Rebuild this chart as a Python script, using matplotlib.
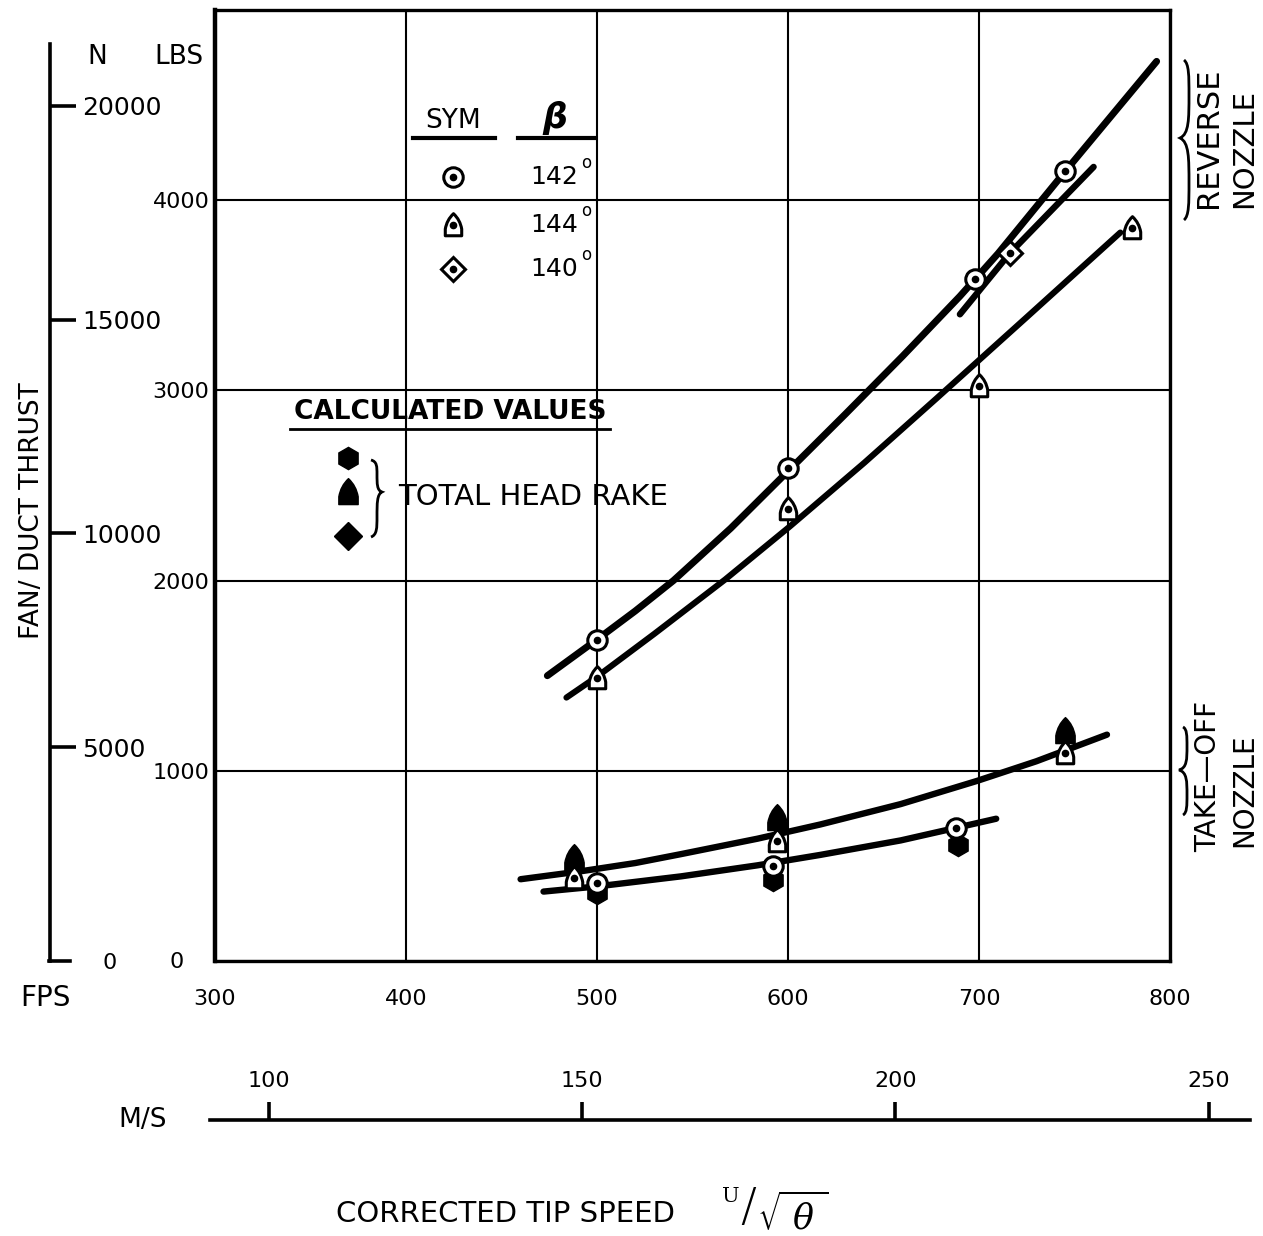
import numpy as np
import matplotlib
matplotlib.use("Agg")
import matplotlib.pyplot as plt
from matplotlib.path import Path
from matplotlib.patches import PathPatch
from matplotlib.lines import Line2D

plt.rcParams['font.family'] = ['DejaVu Sans']
plt.rcParams['mathtext.fontset'] = 'dejavuserif'

# ---------------- data (corrected tip speed in ft/s, thrust in lbs) ----------------
# reverse nozzle, measured
rev142_fps = [500, 600, 698, 745]
rev142_lbs = [1690, 2590, 3585, 4152]
rev144_fps = [500, 600, 700, 780]
rev144_lbs = [1490, 2375, 3022, 3856]
rev140_fps = [716]
rev140_lbs = [3720]

# reverse nozzle, faired curves
fair142_fps = [474, 500, 520, 540, 570, 600, 630, 660, 690, 710, 745, 793]
fair142_lbs = [1500, 1690, 1840, 2000, 2275, 2575, 2875, 3180, 3495, 3720, 4150, 4730]
fair140_fps = [690, 716, 760]
fair140_lbs = [3400, 3720, 4175]
fair144_fps = [484, 500, 530, 567, 601, 640, 678, 725, 774]
fair144_lbs = [1385, 1495, 1720, 2005, 2285, 2620, 2960, 3385, 3830]

# take-off nozzle, measured
to144_fps = [488, 594, 745]
to144_lbs = [435, 630, 1093]
to142_fps = [500, 592, 688]
to142_lbs = [409, 500, 698]

# take-off nozzle, calculated from total head rake
calc144_fps = [488, 594, 745]
calc144_lbs = [540, 751, 1207]
calc142_fps = [500, 592, 689]
calc142_lbs = [356, 426, 610]

# take-off nozzle, faired curves
fair_to_hi_fps = [460, 491, 520, 544, 584, 617, 659, 699, 730, 767]
fair_to_hi_lbs = [430, 471, 515, 562, 643, 718, 825, 947, 1050, 1190]
fair_to_lo_fps = [472, 500, 544, 584, 617, 659, 688, 709]
fair_to_lo_lbs = [365, 392, 445, 503, 558, 634, 700, 748]

# axis ticks
fps_ticks = [300, 400, 500, 600, 700, 800]
lbs_ticks = [0, 1000, 2000, 3000, 4000]
n_ticks = [5000, 10000, 15000, 20000]
ms_ticks = [100, 150, 200, 250]
beta_labels = ['142', '144', '140']

LBF_TO_N = 4.44822
FPS_TO_MS = 0.3048

# ---------------- figure ----------------
W, H = 1263, 1236
fig = plt.figure(figsize=(W / 100, H / 100), dpi=100)
fig.patch.set_facecolor('white')


def fx(px):
    return px / W


def fy(py):
    return 1 - py / H


# bullet-shaped "triangle" symbol
bullet = Path(
    [(-0.8, -1.0), (0.8, -1.0), (0.8, -0.35), (0.65, 0.55), (0.0, 1.15),
     (-0.65, 0.55), (-0.8, -0.35), (-0.8, -1.0)],
    [Path.MOVETO, Path.LINETO, Path.LINETO, Path.CURVE3, Path.CURVE3,
     Path.CURVE3, Path.CURVE3, Path.CLOSEPOLY])

# ---------------- main axes ----------------
ax = fig.add_axes([fx(215), fy(961), (1170 - 215) / W, (961 - 10) / H])
ax.set_xlim(300, 800)
ax.set_ylim(0, 5000)
ax.set_xticks(fps_ticks)
ax.set_xticklabels([str(v) for v in fps_ticks])
ax.set_yticks(lbs_ticks)
ax.set_yticklabels([''] + [str(v) for v in lbs_ticks[1:]])
ax.tick_params(axis='both', length=0, labelsize=16)
ax.tick_params(axis='x', pad=20)
ax.tick_params(axis='y', pad=4)
ax.grid(True, color='black', lw=1.5)
for side in ['top', 'right', 'bottom']:
    ax.spines[side].set_linewidth(2.4)
ax.spines['left'].set_linewidth(3.2)
ax.set_axisbelow(True)

curve_kw = dict(color='black', solid_capstyle='round',
                solid_joinstyle='round', zorder=3)
ax.plot(fair142_fps, fair142_lbs, lw=5.0, **curve_kw)
ax.plot(fair140_fps, fair140_lbs, lw=4.6, **curve_kw)
ax.plot(fair144_fps, fair144_lbs, lw=4.4, **curve_kw)
ax.plot(fair_to_hi_fps, fair_to_hi_lbs, lw=4.6, **curve_kw)
ax.plot(fair_to_lo_fps, fair_to_lo_lbs, lw=4.6, **curve_kw)

# calculated values (filled)
ax.plot(calc144_fps, calc144_lbs, ls='none', marker=bullet, ms=20,
        color='black', zorder=4)
ax.plot(calc142_fps, calc142_lbs, ls='none', marker='h', ms=16,
        color='black', zorder=4)

# measured values (open with centre dot)
open_kw = dict(ls='none', mfc='white', mec='black', mew=2.2, zorder=5)
dot_kw = dict(ls='none', marker='o', ms=4.5, color='black', zorder=6)
ax.plot(rev142_fps, rev142_lbs, marker='o', ms=14, **open_kw)
ax.plot(rev142_fps, rev142_lbs, **dot_kw)
ax.plot(rev144_fps, rev144_lbs, marker=bullet, ms=17, **open_kw)
ax.plot(rev144_fps, rev144_lbs, **dot_kw)
ax.plot(rev140_fps, rev140_lbs, marker='D', ms=12, **open_kw)
ax.plot(rev140_fps, rev140_lbs, **dot_kw)
ax.plot(to142_fps, to142_lbs, marker='o', ms=14, **open_kw)
ax.plot(to142_fps, to142_lbs, **dot_kw)
ax.plot(to144_fps, to144_lbs, marker=bullet, ms=17, **open_kw)
ax.plot(to144_fps, to144_lbs, **dot_kw)

fig.text(fx(177), fy(962), '0', fontsize=16, ha='center', va='center')
fig.text(fx(45), fy(998), 'FPS', fontsize=20, ha='center', va='center')

# ---------------- newton scale ----------------
ax_n = fig.add_axes([fx(50) - 0.01, fy(961), 0.01, (961 - 10) / H])
ax_n.set_ylim(0, 5000 * LBF_TO_N)
ax_n.patch.set_visible(False)
for side in ['top', 'left', 'bottom']:
    ax_n.spines[side].set_visible(False)
ax_n.spines['right'].set_linewidth(2.6)
ax_n.spines['right'].set_bounds(0, 21450)
ax_n.set_xticks([])
ax_n.yaxis.tick_right()
ax_n.set_yticks(n_ticks)
ax_n.set_yticklabels([str(v) for v in n_ticks])
ax_n.tick_params(axis='y', direction='out', length=19, width=2.6,
                 labelsize=18, pad=4)
fig.add_artist(Line2D([fx(49), fx(70)], [fy(961), fy(961)], lw=2.6,
                      color='black', transform=fig.transFigure))
fig.text(fx(110), fy(963), '0', fontsize=16, ha='center', va='center')
fig.text(fx(97), fy(57), 'N', fontsize=19, ha='center', va='center')
fig.text(fx(179), fy(57), 'LBS', fontsize=19, ha='center', va='center')
fig.text(fx(32), fy(511), 'FAN/ DUCT THRUST', fontsize=19, rotation=90,
         ha='center', va='center')

# ---------------- metres per second scale ----------------
px_per_fps = (1170 - 215) / 500
lo_fps = 300 - (215 - 210) / px_per_fps
hi_fps = 800 + (1250 - 1170) / px_per_fps
ax_ms = fig.add_axes([fx(210), fy(1120), (1250 - 210) / W, 1e-4])
ax_ms.set_xlim(lo_fps * FPS_TO_MS, hi_fps * FPS_TO_MS)
ax_ms.patch.set_visible(False)
for side in ['left', 'right', 'bottom']:
    ax_ms.spines[side].set_visible(False)
ax_ms.spines['top'].set_linewidth(2.6)
ax_ms.set_yticks([])
ax_ms.xaxis.tick_top()
ax_ms.set_xticks(ms_ticks)
ax_ms.set_xticklabels([str(v) for v in ms_ticks])
ax_ms.tick_params(axis='x', direction='out', length=13, width=2.6,
                  labelsize=16, pad=8)
fig.text(fx(143), fy(1120), 'M/S', fontsize=19, ha='center', va='center')

# axis title with U / sqrt(theta)
fig.text(fx(506), fy(1214), 'CORRECTED TIP SPEED', fontsize=21,
         ha='center', va='center')
fig.text(fx(731), fy(1196), 'U', fontsize=15, family='DejaVu Serif',
         ha='center', va='center')
fig.text(fx(748), fy(1208), '/', fontsize=34, fontweight='light',
         ha='center', va='center')
fig.text(fx(757), fy(1214), r'$\sqrt{\;\theta\;}$', fontsize=25,
         ha='left', va='center')

# ---------------- symbol key ----------------
fig.text(fx(453), fy(121), 'SYM', fontsize=19, ha='center', va='center')
fig.text(fx(555), fy(118), 'β', fontsize=25, fontweight='bold',
         fontstyle='italic', ha='center', va='center')
for x0, x1 in [(413, 495), (518, 595)]:
    fig.add_artist(Line2D([fx(x0), fx(x1)], [fy(138), fy(138)], lw=3,
                          color='black', transform=fig.transFigure))

key_y = [177, 225, 269]
key_markers = [('o', 14), (bullet, 17), ('D', 12)]
for (mk, size), yy, lab in zip(key_markers, key_y, beta_labels):
    fig.add_artist(Line2D([fx(453)], [fy(yy)], marker=mk, ms=size,
                          mfc='white', mec='black', mew=2.2, ls='none',
                          transform=fig.transFigure))
    fig.add_artist(Line2D([fx(453)], [fy(yy)], marker='o', ms=4.5,
                          color='black', ls='none', transform=fig.transFigure))
    fig.text(fx(530), fy(yy), lab, fontsize=18, ha='left', va='center')
    fig.text(fx(586), fy(yy - 14), 'o', fontsize=12, ha='center',
             va='center')

fig.text(fx(450), fy(412), 'CALCULATED VALUES', fontsize=19,
         fontweight='bold', ha='center', va='center')
fig.add_artist(Line2D([fx(290), fx(610)], [fy(429), fy(429)], lw=2,
                      color='black', transform=fig.transFigure))
calc_key = [('h', 16, 458), (bullet, 20, 492), ('D', 14, 536)]
for mk, size, yy in calc_key:
    fig.add_artist(Line2D([fx(348)], [fy(yy)], marker=mk, ms=size,
                          color='black', ls='none', transform=fig.transFigure))
fig.text(fx(398), fy(497), 'TOTAL HEAD RAKE', fontsize=21, ha='left',
         va='center')


# ---------------- braces ----------------
def brace(x_end, x_body, x_tip, y0, y1, y_tip, lw=2.0):
    h1 = y_tip - y0
    h2 = y1 - y_tip
    pts = [
        (x_end, y0),
        (x_body, y0 + 0.05 * h1), (x_body, y0 + 0.2 * h1), (x_body, y0 + 0.45 * h1),
        (x_body, y0 + 0.75 * h1), (x_body, y_tip - 0.05 * h1), (x_tip, y_tip),
        (x_body, y_tip + 0.05 * h2), (x_body, y_tip + 0.25 * h2), (x_body, y_tip + 0.55 * h2),
        (x_body, y1 - 0.2 * h2), (x_body, y1 - 0.05 * h2), (x_end, y1),
    ]
    codes = [Path.MOVETO] + [Path.CURVE4] * 12
    verts = [(fx(px), fy(py)) for px, py in pts]
    fig.add_artist(PathPatch(Path(verts, codes), fill=False, lw=lw,
                             edgecolor='black', transform=fig.transFigure))


brace(371, 377, 382, 460, 537, 492)
brace(1184, 1189, 1180, 60, 220, 138)
brace(1183, 1187, 1179, 727, 815, 770)

# ---------------- nozzle labels ----------------
fig.text(fx(1209), fy(208), 'REVERSE', fontsize=22, rotation=90,
         rotation_mode='anchor', ha='left', va='center')
fig.text(fx(1244), fy(208), 'NOZZLE', fontsize=21, rotation=90,
         rotation_mode='anchor', ha='left', va='center')
fig.text(fx(1208), fy(852), 'TAKE—OFF', fontsize=20, rotation=90,
         rotation_mode='anchor', ha='left', va='center')
fig.text(fx(1244), fy(847), 'NOZZLE', fontsize=20, rotation=90,
         rotation_mode='anchor', ha='left', va='center')

fig.savefig('out.png', dpi=100, facecolor='white')
